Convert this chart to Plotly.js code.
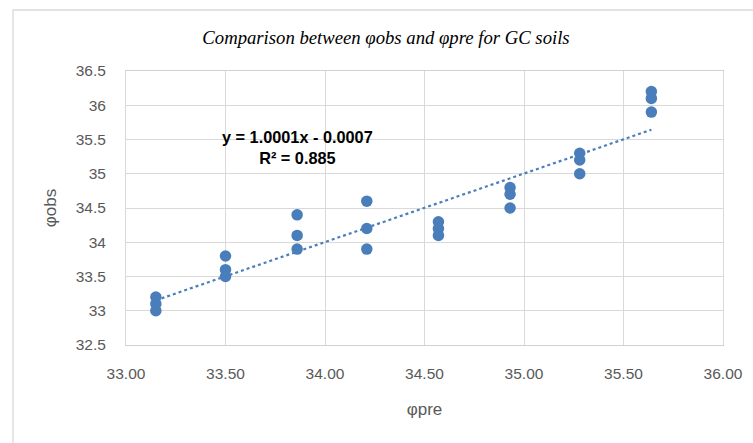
<!DOCTYPE html>
<html>
<head>
<meta charset="utf-8">
<script src="https://cdn.plot.ly/plotly-3.0.1.min.js"></script>
<style>
  html, body { margin: 0; padding: 0; background: #ffffff; }
  #chart { width: 753px; height: 443px; }
</style>
</head>
<body>
<div id="chart"></div>
<script>
const phiPre = [
  33.15, 33.15, 33.15,
  33.50, 33.50, 33.50,
  33.86, 33.86, 33.86,
  34.21, 34.21, 34.21,
  34.57, 34.57, 34.57,
  34.93, 34.93, 34.93,
  35.28, 35.28, 35.28,
  35.64, 35.64, 35.64
];
const phiObs = [
  33.2, 33.1, 33.0,
  33.8, 33.6, 33.5,
  34.4, 34.1, 33.9,
  34.6, 34.2, 33.9,
  34.3, 34.2, 34.1,
  34.8, 34.7, 34.5,
  35.3, 35.2, 35.0,
  36.2, 36.1, 35.9
];
// Linear trendline as printed on the chart
const trendSlope = 1.0001;
const trendIntercept = -0.0007;
const trendLabel = "y = 1.0001x - 0.0007<br>R² = 0.885";
const xTickVals = [33.0, 33.5, 34.0, 34.5, 35.0, 35.5, 36.0];
const xTickText = ["33.00", "33.50", "34.00", "34.50", "35.00", "35.50", "36.00"];
const yTickVals = [32.5, 33, 33.5, 34, 34.5, 35, 35.5, 36, 36.5];
const yTickText = ["32.5", "33", "33.5", "34", "34.5", "35", "35.5", "36", "36.5"];

const xMin = Math.min(...phiPre);
const xMax = Math.max(...phiPre);
const trendX = [xMin, xMax];
const trendY = trendX.map(v => trendSlope * v + trendIntercept);

const blue = "#4a7ebb";
const tickFont = { family: "Liberation Sans, Arial, sans-serif", size: 15.5, color: "#595959" };

const traces = [
  {
    x: trendX, y: trendY, type: "scatter", mode: "lines",
    line: { color: blue, width: 2.2, dash: "dot" },
    hoverinfo: "skip", showlegend: false
  },
  {
    x: phiPre, y: phiObs, type: "scatter", mode: "markers",
    marker: { color: blue, size: 11.5 },
    showlegend: false
  }
];

const W = 753, H = 443;
const L = 126, R = 30, T = 71, B = 98;
const pw = W - L - R, ph = H - T - B;
const px = p => (p - L) / pw;
const py = p => (H - B - p) / ph;

const layout = {
  width: W, height: H,
  margin: { l: L, r: R, t: T, b: B, pad: 0 },
  paper_bgcolor: "#ffffff",
  plot_bgcolor: "#ffffff",
  showlegend: false,
  title: {
    text: "Comparison between φobs and φpre for GC soils",
    font: { family: "Liberation Serif, Times New Roman, serif", size: 18.7, color: "#000000", style: "italic" },
    x: px(386), xref: "paper", xanchor: "center",
    y: 1 - 37 / H, yref: "container", yanchor: "middle"
  },
  xaxis: {
    range: [33, 36],
    tickvals: xTickVals, ticktext: xTickText,
    showgrid: true, gridcolor: "#d9d9d9", gridwidth: 1,
    zeroline: false,
    showline: true, linecolor: "#d0d0d0", linewidth: 1, mirror: true,
    ticks: "", ticklabelstandoff: 14,
    tickfont: tickFont,
    title: { text: "φpre", font: { family: "Liberation Sans, Arial, sans-serif", size: 17, color: "#595959" }, standoff: 22 }
  },
  yaxis: {
    range: [32.5, 36.5],
    tickvals: yTickVals, ticktext: yTickText,
    showgrid: true, gridcolor: "#d9d9d9", gridwidth: 1,
    zeroline: false,
    showline: true, linecolor: "#d9d9d9", linewidth: 1, mirror: true,
    ticks: "", ticklabelstandoff: 16,
    tickfont: tickFont,
    title: { text: "φobs", font: { family: "Liberation Sans, Arial, sans-serif", size: 17, color: "#595959" }, standoff: 14 }
  },
  annotations: [
    {
      text: trendLabel,
      x: px(297), xref: "paper", y: py(147), yref: "paper",
      xanchor: "center", yanchor: "middle", align: "center",
      showarrow: false,
      font: { family: "Liberation Sans, Arial, sans-serif", size: 16.3, color: "#000000", weight: "bold" }
    }
  ],
  shapes: [
    {
      type: "rect", xref: "paper", yref: "paper", layer: "below",
      x0: px(13), x1: px(780), y0: py(470), y1: py(10),
      line: { color: "#d9d9d9", width: 1.3 }, fillcolor: "rgba(0,0,0,0)"
    }
  ]
};

Plotly.newPlot("chart", traces, layout, { displayModeBar: false, staticPlot: true });
</script>
</body>
</html>
